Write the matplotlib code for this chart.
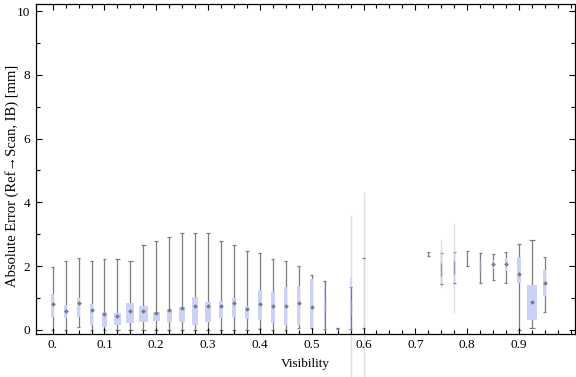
import matplotlib
matplotlib.use("Agg")
import matplotlib.pyplot as plt
import numpy as np

plt.rcParams['font.family'] = ['Liberation Serif', 'DejaVu Serif']

nan = np.nan

# visibility bins (box centres)
visibility = [0.0, 0.025, 0.05, 0.075, 0.1, 0.125, 0.15, 0.175, 0.2, 0.225,
              0.25, 0.275, 0.3, 0.325, 0.35, 0.375, 0.4, 0.425, 0.45, 0.475,
              0.5, 0.525, 0.55, 0.575, 0.6, 0.625, 0.65, 0.675, 0.7, 0.725,
              0.75, 0.775, 0.8, 0.825, 0.85, 0.875, 0.9, 0.925, 0.95]

# whisker ends, quartiles, median  [mm]
w_lo = [0.00, 0.00, 0.08, 0.00, 0.00, 0.00, 0.00, 0.00, 0.00, 0.00,
        0.00, 0.00, 0.00, 0.00, 0.00, 0.00, 0.02, 0.00, 0.00, 0.05,
        0.05, 0.02, 0.02, 0.02, 0.06, nan, nan, nan, nan, 2.33,
        1.44, 1.47, 2.01, 1.48, 1.56, 1.48, 0.00, 0.06, 0.56]
q1 = [0.40, 0.39, 0.42, 0.17, 0.10, 0.14, 0.23, 0.26, 0.29, 0.26,
      0.26, 0.17, 0.26, 0.39, 0.42, 0.35, 0.32, 0.23, 0.14, 0.17,
      0.05, 0.05, nan, 0.05, nan, nan, nan, nan, nan, nan,
      1.44, 1.47, nan, 1.85, 1.90, 1.84, 1.48, 0.31, 1.06]
med = [0.80, 0.60, 0.83, 0.62, 0.49, 0.44, 0.59, 0.59, 0.54, 0.62,
       0.68, 0.75, 0.74, 0.75, 0.83, 0.65, 0.81, 0.75, 0.75, 0.83,
       0.73, 0.80, nan, 0.70, nan, nan, nan, nan, nan, nan,
       1.90, 1.95, nan, 2.00, 2.08, 2.06, 1.76, 0.875, 1.48]
q3 = [1.12, 0.78, 1.00, 0.81, 0.56, 0.53, 0.84, 0.75, 0.56, 0.66,
      0.72, 1.03, 0.875, 0.91, 1.00, 0.75, 1.25, 1.19, 1.34, 1.37,
      1.59, 1.50, nan, 1.65, nan, nan, nan, nan, nan, nan,
      2.40, 2.43, nan, 2.10, 2.20, 2.25, 2.28, 1.41, 1.875]
w_hi = [1.98, 2.16, 2.27, 2.16, 2.24, 2.21, 2.15, 2.65, 2.80, 2.93,
        3.05, 3.05, 3.05, 2.80, 2.65, 2.46, 2.40, 2.21, 2.15, 1.99,
        1.71, 1.53, 0.05, 1.36, 2.27, nan, nan, nan, nan, 2.44,
        2.40, 2.43, 2.47, 2.41, 2.375, 2.43, 2.68, 2.82, 2.30]

# faint outer ranges
faint_vis = [0.575, 0.6, 0.75, 0.775]
faint_lo = [-1.47, -1.47, 1.30, 0.52]
faint_hi = [3.60, 4.32, 2.86, 3.35]

# box widths as drawn (pixels)
box_px = [3, 3, 3, 3, 4.7, 7, 8, 9, 7, 5,
          6, 5.5, 5.3, 4.3, 4.3, 4.3, 3.3, 3.3, 3.3, 3.3,
          2.7, 1, 0, 1, 0, 0, 0, 0, 0, 0,
          1, 1, 0, 1, 1.5, 2, 4, 10.7, 3]

px = 0.025 / 12.96
box_col = "#ccd2f7"
wh_col = "#7c7c7c"

fig = plt.figure(figsize=(5.76, 3.77), dpi=100)
ax = fig.add_axes([0.0625, 0.115, 0.9355, 0.8735])

ax.vlines(faint_vis, faint_lo, faint_hi, color="#dddddd", lw=1.0,
          zorder=0, clip_on=False)

for i, x in enumerate(visibility):
    if np.isnan(w_lo[i]):
        continue
    faint = np.isnan(q1[i]) and x in faint_vis
    ax.vlines(x, w_lo[i], w_hi[i], color="#d8d8d8" if faint else wh_col,
              lw=0.9, zorder=1)
    cap = (3 + 0.3 * max(box_px[i] - 3, 0)) * px
    ax.hlines([w_lo[i], w_hi[i]], x - cap / 2, x + cap / 2, color=wh_col,
              lw=0.9, zorder=1)
    if not np.isnan(q1[i]):
        ax.bar(x, q3[i] - q1[i], bottom=q1[i], width=box_px[i] * px,
               color=box_col, edgecolor="none", zorder=2)
        if box_px[i] >= 1.5:
            ax.plot(x, med[i], marker="D", ms=2.4, color="#6c6c6c",
                    mec="none", alpha=0.85, zorder=3)
        else:
            ax.vlines(x, med[i] - 0.2, med[i] + 0.2, color="#9095b0",
                      lw=0.9, zorder=3)

ax.set_xlim(-0.0322, 1.0079)
ax.set_ylim(-0.116, 10.21)

xt = [0.0, 0.1, 0.2, 0.3, 0.4, 0.5, 0.6, 0.7, 0.8, 0.9]
xl = ["0.", "0.1", "0.2", "0.3", "0.4", "0.5", "0.6", "0.7", "0.8", "0.9"]
ax.set_xticks(xt)
ax.set_xticklabels(xl)
ax.set_xticks([k * 0.025 for k in range(41)], minor=True)
ax.set_yticks([0, 2, 4, 6, 8, 10])
ax.set_yticks([1, 3, 5, 7, 9], minor=True)

ax.tick_params(which="both", direction="in", top=True, right=True,
               labelsize=9.5, width=0.8, color="black")
ax.tick_params(which="major", length=4, pad=4)
ax.tick_params(which="minor", length=3)
for s in ax.spines.values():
    s.set_linewidth(0.9)

ax.set_xlabel("Visibility", fontsize=9.5, labelpad=5)
fig.text(12 / 576, 1 - 176 / 377, "Absolute Error (Ref\u2192Scan, IB) [mm]",
         rotation=90, ha="center", va="center", fontsize=10.5)

plt.savefig("out.png", dpi=100)
